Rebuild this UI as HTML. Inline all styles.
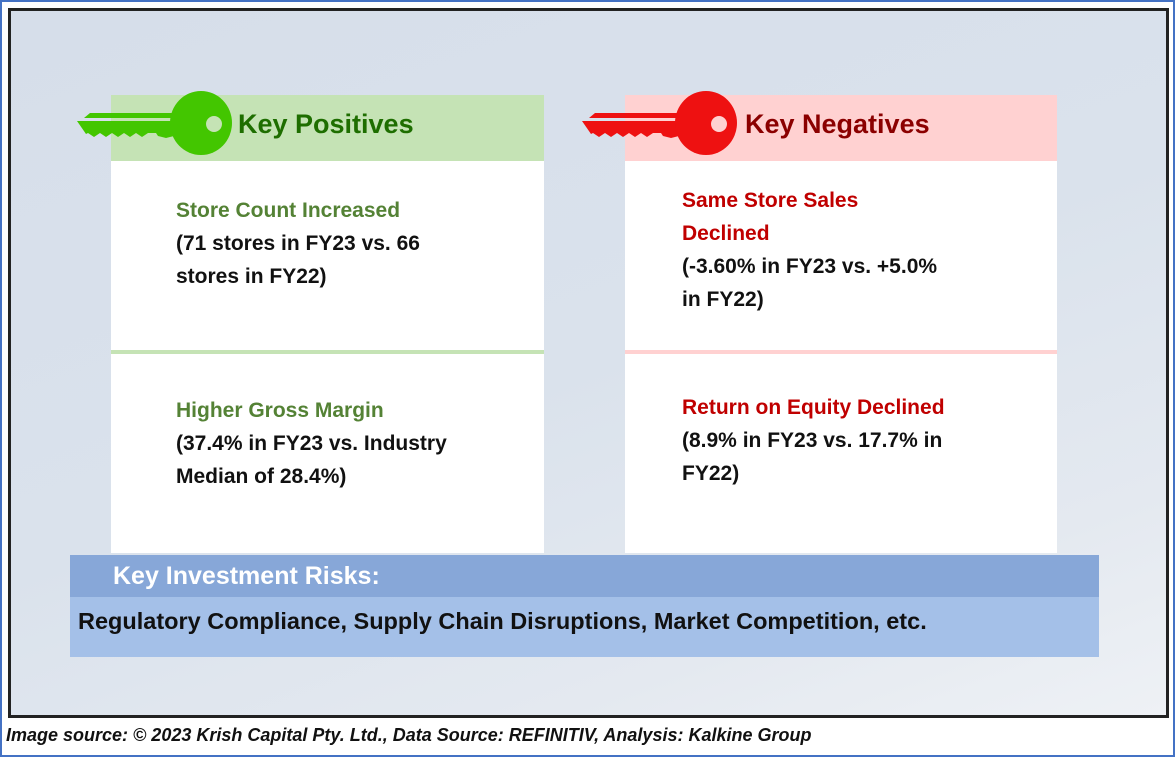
<!DOCTYPE html>
<html><head><meta charset="utf-8"><style>
body{margin:0;width:1175px;height:757px;overflow:hidden;background:#fff;font-family:"Liberation Sans",sans-serif;position:relative}
.abs{position:absolute}
.t{font-weight:bold;font-size:21px;line-height:33px;color:#111;white-space:nowrap}
</style></head><body>
<div class="abs" style="left:0;top:0;width:1171px;height:753px;border:2px solid #4472c4"></div>
<div class="abs" style="left:8px;top:8px;width:1155px;height:704px;border:3px solid #222;background:linear-gradient(160deg,#d6deea 0%,#dae2ec 50%,#e4e9f0 80%,#eef1f5 100%)"></div>

<div class="abs" style="left:111px;top:95px;width:433px;height:66px;background:#c5e3b5"></div>
<div class="abs" style="left:111px;top:161px;width:433px;height:392px;background:#fff"></div>
<div class="abs" style="left:111px;top:350px;width:433px;height:4px;background:#c5e3b5"></div>
<div class="abs" style="left:625px;top:95px;width:432px;height:66px;background:#ffd1d1"></div>
<div class="abs" style="left:625px;top:161px;width:432px;height:392px;background:#fff"></div>
<div class="abs" style="left:625px;top:350px;width:432px;height:4px;background:#ffd1d1"></div>

<svg class="abs" style="left:0;top:0" width="1175" height="200">
<g fill="#43c600">
<polygon points="77,121 178,121 178,135 166,138 158,136 156,133 148,133 142,137 136,133 130,137 124,133 118,137 112,133 106,137 100,133 94,137 88,133 86,134"/>
<polygon points="90,113 178,113 178,118 84,118"/>
<ellipse cx="201" cy="123" rx="31" ry="32"/><circle cx="214" cy="124" r="8" fill="#c5e3b5"/>
</g>
<g fill="#ee1111">
<polygon points="582,121 683,121 683,135 671,138 663,136 661,133 653,133 647,137 641,133 635,137 629,133 623,137 617,133 611,137 605,133 599,137 593,133 591,134"/>
<polygon points="595,113 683,113 683,118 589,118"/>
<ellipse cx="706" cy="123" rx="31" ry="32"/><circle cx="719" cy="124" r="8" fill="#ffd1d1"/>
</g>
</svg>
<div class="abs" style="left:238px;top:109px;font-size:27px;font-weight:bold;color:#1e6e00">Key Positives</div>
<div class="abs" style="left:745px;top:109px;font-size:27px;font-weight:bold;color:#8b0000">Key Negatives</div>

<div class="abs t" style="left:176px;top:194px"><span style="color:#548235">Store Count Increased</span><br>(71 stores in FY23 vs. 66<br>stores in FY22)</div>
<div class="abs t" style="left:176px;top:394px"><span style="color:#548235">Higher Gross Margin</span><br>(37.4% in FY23 vs. Industry<br>Median of 28.4%)</div>
<div class="abs t" style="left:682px;top:184px"><span style="color:#c00000">Same Store Sales<br>Declined</span><br>(-3.60% in FY23 vs. +5.0%<br>in FY22)</div>
<div class="abs t" style="left:682px;top:391px"><span style="color:#c00000">Return on Equity Declined</span><br>(8.9% in FY23 vs. 17.7% in<br>FY22)</div>

<div class="abs" style="left:70px;top:555px;width:1029px;height:42px;background:#87a7d8"></div>
<div class="abs" style="left:70px;top:597px;width:1029px;height:60px;background:#a4c0e8"></div>
<div class="abs" style="left:113px;top:562px;font-size:25px;font-weight:bold;color:#fff">Key Investment Risks:</div>
<div class="abs" style="left:78px;top:608px;font-size:23.5px;font-weight:bold;color:#111;white-space:nowrap">Regulatory Compliance, Supply Chain Disruptions, Market Competition, etc.</div>

<div class="abs" style="left:6px;top:725px;font-size:18px;font-style:italic;font-weight:bold;color:#111;white-space:nowrap">Image source: © 2023 Krish Capital Pty. Ltd., Data Source: REFINITIV, Analysis: Kalkine Group</div>
</body></html>
